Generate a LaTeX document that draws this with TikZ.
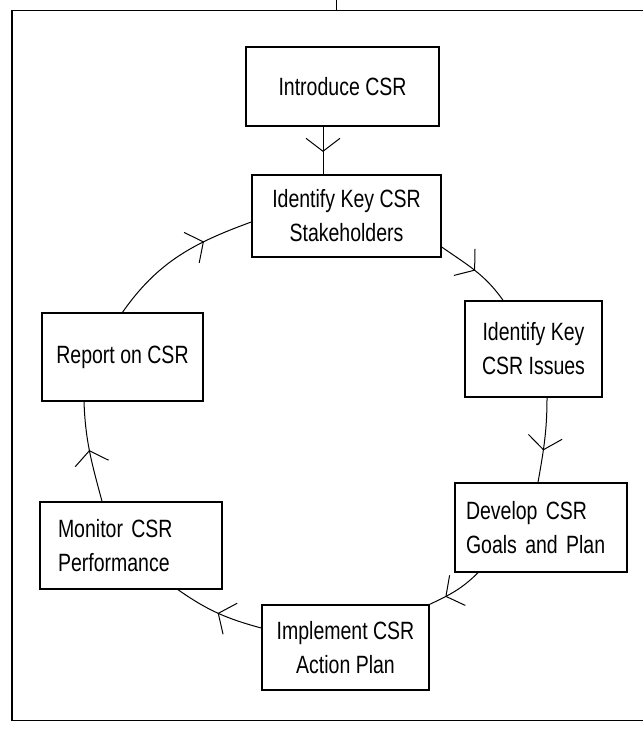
\documentclass[tikz,border=0pt]{standalone}
\usepackage{fontspec}
\setmainfont{Liberation Sans}[FakeStretch=0.78]
\usetikzlibrary{arrows.meta,decorations.markings}

\tikzset{
  stepbox/.style={draw, rectangle, line width=1.4pt, align=center, inner sep=0pt,
    font=\fontsize{25}{34}\selectfont},
  midarrow/.style={postaction={decorate},
    decoration={markings, mark=at position #1 with {\arrow{>}}}}
}

\begin{document}
\begin{tikzpicture}[x=1pt, y=1pt, >={Straight Barb[length=13pt,width=34pt]}, line width=1pt]
\useasboundingbox (0,0) rectangle (643,-746);
\draw[line width=1.6pt] (643,-10.5) -- (12,-10.5) -- (12,-720.5) -- (643,-720.5);
\draw[line width=1pt] (336,0) -- (336,-10.5);

\node[stepbox, minimum width=193pt, minimum height=79pt] (intro) at (342.5,-86.5) {Introduce CSR};
\node[stepbox, minimum width=189pt, minimum height=82pt] (stake) at (346.5,-216) {Identify Key CSR\\Stakeholders};
\node[stepbox, minimum width=137pt, minimum height=96pt] (issues) at (533.5,-349) {Identify Key\\CSR Issues};
\node[stepbox, minimum width=172pt, minimum height=89pt, text width=150pt, align=left] (goals) at (541,-527.5) {Develop CSR\\Goals and Plan};
\node[stepbox, minimum width=167pt, minimum height=85pt] (impl) at (345.5,-647.5) {Implement CSR\\Action Plan};
\node[stepbox, minimum width=182pt, minimum height=87pt, text width=146pt, align=left] (monitor) at (131,-545.5) {Monitor CSR\\Performance};
\node[stepbox, minimum width=161pt, minimum height=88pt] (report) at (122.5,-357) {Report on CSR};

\draw[midarrow=0.53] ([xshift=-19.5pt]intro.south) -- ([xshift=-19.5pt]intro.south |- stake.north);
\draw[midarrow=0.5] ([yshift=-31pt]stake.east) to[out=-35,in=125] ([xshift=-30.5pt]issues.north);
\draw[midarrow=0.62] ([xshift=13.5pt]issues.south) to[out=-90,in=80] ([xshift=-3pt]goals.north);
\draw[midarrow=0.7] ([xshift=-63pt]goals.south) to[out=-135,in=25] (impl.north east);
\draw[midarrow=0.5] ([yshift=19.5pt]impl.west) to[out=165,in=-35] ([xshift=47pt]monitor.south);
\draw[midarrow=0.52] ([xshift=-29pt]monitor.north) to[out=105,in=-88] ([xshift=-38.5pt]report.south);
\draw[midarrow=0.68] (report.north) to[out=55,in=-160] ([yshift=-6pt]stake.west);
\end{tikzpicture}
\end{document}
